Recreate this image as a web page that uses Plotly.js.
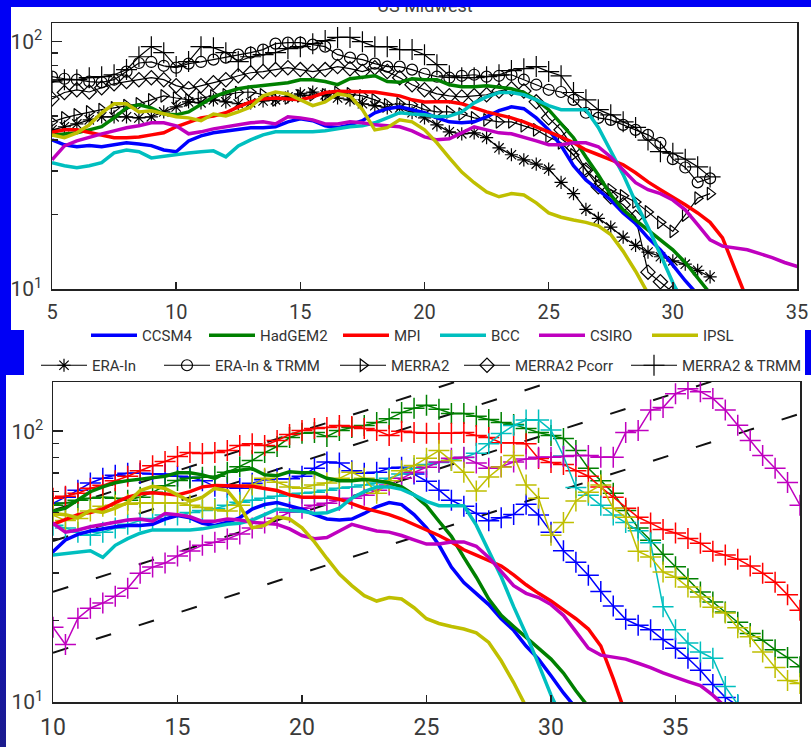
<!DOCTYPE html>
<html><head><meta charset="utf-8">
<script src="https://cdn.plot.ly/plotly-3.0.1.min.js"></script>
<style>
html,body{margin:0;padding:0;background:#fff;}
#wrap{position:relative;width:811px;height:747px;overflow:hidden;background:#fff;}
#chart{position:absolute;left:0;top:0;width:811px;height:747px;}
.bl{position:absolute;background:#0000f5;pointer-events:none;}
</style></head><body>
<div id="wrap"><div id="chart"></div>
<div class="bl" style="left:0;top:0;width:811px;height:7px"></div>
<div class="bl" style="left:0;top:0;width:11px;height:330px"></div>
<div class="bl" style="left:0;top:330px;width:24px;height:45px"></div>
<div class="bl" style="left:0;top:375px;width:6px;height:372px;background:linear-gradient(#0000ee,#1c1c8e)"></div>
<div class="bl" style="left:805px;top:330px;width:6px;height:45px"></div>
</div>
<script>
// ---- data ----
const tempTop = [5,5.5,6,6.5,7,7.5,8,8.5,9,9.5,10,10.5,11,11.5,12,12.5,13,13.5,14,14.5,15,15.5,16,16.5,17,17.5,18,18.5,19,19.5,20,20.5,21,21.5,22,22.5,23,23.5,24,24.5,25,25.5,26,26.5,27,27.5,28,28.5,29,29.5,30,30.5,31,31.5,32,32.5,33,33.5,34,34.5,35,35.5,36,36.5,37,37.5,38,38.5,39,39.5,40];
const tempFut = [10,10.5,11,11.5,12,12.5,13,13.5,14,14.5,15,15.5,16,16.5,17,17.5,18,18.5,19,19.5,20,20.5,21,21.5,22,22.5,23,23.5,24,24.5,25,25.5,26,26.5,27,27.5,28,28.5,29,29.5,30,30.5,31,31.5,32,32.5,33,33.5,34,34.5,35,35.5,36,36.5,37,37.5,38,38.5,39,39.5,40];

const modelNames = ['CCSM4','HadGEM2','MPI','BCC','CSIRO','IPSL'];
const modelColors = ['#0000ff','#008000','#ff0000','#00bfbf','#bf00bf','#bfbf00'];

const ccsm4 = [40.1,38.3,37.6,38,37.6,38.3,39,38.6,38,36.5,35.9,39.7,41.6,42.8,43.6,44.4,44.9,44.9,45.3,47.4,48.8,47.9,45.7,44.9,46.1,47.9,51.6,53.6,54.5,53.1,51.6,49.2,47.4,47,47.4,49.7,52.6,54.5,53.6,49.2,44,38,31.5,27.6,25.2,22.9,20.3,18.4,16.1,14.4,12.5,10.8,9.5];
const hadgem2 = [41.8,42.4,42.8,44,45.3,49.2,54,55.6,54,51,50.6,52,56,59.8,62.3,64.5,65.7,66.4,67,68.2,70.2,70.2,69,67,70.8,72,72.8,69,68.5,70.8,70.2,70.2,67,65.7,65.7,66.4,65.7,64.5,62.3,58.2,53.1,46.5,40.9,34.2,28.9,24,20.9,19,17.3,15.8,14.4,12.8,11,9.6,8.5];
const mpi = [43,44,44,43,42,40.9,40.9,41.2,42,42.8,45.3,47.4,49.2,50.1,51.6,54.5,57.1,58.7,59.2,58.7,58.2,59.8,62.3,63,63,62.6,62.6,61.5,60.4,58.2,57,57.1,57.1,56.1,54,52,50.6,49.2,47.4,45.3,43,41.2,39,36.5,34.9,33.3,31.8,29.5,27.1,25.2,23.6,21.9,20.3,18.6,16.1,12.2,9.0];
const bcc = [32.4,31.5,30.9,31.5,32.4,35.5,36.5,35.9,33.9,34.5,34.9,35.5,35.9,36.2,34.2,37.9,40.1,42,43.2,43.2,43.2,43.2,43.6,44.4,45.3,45.7,47,49.2,51.6,51,50.6,49.7,50,52,56.6,59.8,62.3,62.3,61,58.2,55.1,53.1,53.1,53.1,45,36,29,22.5,17.8,13.8,10.6,8.5];
const csiro = [33.3,37.9,39.7,41.2,42.4,43.6,44.9,45.7,47,47,45.7,42.4,43.2,44.4,45.3,46.1,47,47.4,46.5,49.7,49.2,48.3,46.5,46.5,47.4,47,46.1,45.7,45.3,43.6,41.2,40.1,40.5,42.8,45.3,44,42.8,42.4,41.2,39.7,38.3,38.3,39,39,37.6,34.2,30.3,26.9,25.2,24.3,22.9,20.9,18.2,15.8,14.9,14.6,14.4,13.9,13.4,12.8,12.3,11.9,11.5,10.6,9.6];
const ipsl = [42,40.9,42.8,46.1,51.6,56.1,56.1,52,52.6,51,49.7,49.2,47.9,51,50.1,52,54.5,60.4,62.6,61.5,58.2,55.1,57.1,61.5,60.4,53.1,44,44.9,48.3,47.4,44,39,33.9,29.7,26.9,24.7,23.6,24.3,24,22.3,20.3,19.5,19,18.6,18,16.6,14.2,11.8,9.6];

const obsNames = ['ERA-In','ERA-In & TRMM','MERRA2','MERRA2 Pcorr','MERRA2 & TRMM'];
const obsSymbols = ['asterisk-open','circle-open','triangle-right-open','diamond-open','cross-thin-open'];
const eraIn = [44,45.3,46.5,48.3,49.7,49.7,49.7,49.2,49.7,52,54.5,57.1,56.6,58.2,57.1,56.1,56.6,57.6,58.2,59.8,61.5,62.6,61,59.2,58.2,56.1,55.1,54,54,51.6,49.2,46.1,43.2,42.4,42.8,40.9,37.2,34.9,33.3,32,30.5,27,24.3,21,19.3,17.8,16.2,15,14.1,13.5,13,12.6,11.9,11.2];
const eraInTrmm = [72.2,70.8,70.2,69,68.5,70.2,75.7,82,82.8,79.9,78.5,81.5,82.8,84.6,86.2,88.6,90.3,92.9,98.2,99.1,99.1,97.3,95.5,88.6,86.2,84.6,81.5,79.3,79.3,77.1,74.2,72.2,71.5,72.8,73.5,72.2,72.8,73.5,70.2,67,63.9,62.6,58.2,51.6,49.2,48.3,46.1,44,42,39,33.5,31,27,28];
const merra2 = [47.4,49.2,50.6,52,53.1,54,55.1,56.1,58.2,60.4,59.2,58.2,59.2,60.4,61,62.3,62.6,61,58.2,59.2,60.4,61,61,62.3,61.5,60.4,58.2,55.6,56.1,55.6,53.1,52,52,51,49.2,48.3,47.4,47.4,45.7,44,41.2,39,34.9,30.3,27.1,25.2,23.8,22.5,20.5,18.6,17.1,19.9,23.3,24.3];
const merra2Pcorr = [58.7,62.3,63.9,62.6,65.1,67.6,69,70.2,71.5,70.2,66.4,64.5,66.4,68.2,70.2,72.8,74.9,75.7,77.1,78.5,77.1,75.7,77.1,79.3,77.8,75.7,78.5,75.7,71.5,67,63.9,61.5,60.4,59.8,60.4,61,63.2,64.5,63.2,57.1,49.2,44,37.2,30.3,25.9,23.6,21.9,19.5,11.7,10.7,9.7];
const merra2Trmm = [68.8,70.2,70.2,71.5,72.2,73.5,77.1,86.9,95.5,90.3,79.3,83.1,95.5,94.6,90.3,83.1,86.9,88.6,90.3,93.7,95.5,98.2,101,104,104,100,95.5,95.5,92.9,92.9,88.6,80.7,72.8,71.5,71.5,72.2,73.5,76.4,77.8,79.3,75.7,72.8,62.3,58.2,53.1,50.6,47.4,45,40,35.9,35.4,33.5,31.2,28.4];

// future (lower panel, "+" series)
const ccsm4Fut = [54.2,57.1,60.6,64.4,67,68.8,70,70,69.5,69.5,68.2,67.6,65.7,62.6,62.1,61.6,64.3,66.2,66.8,66.8,68.2,73,77,76.4,71.5,70,70.5,73,73.6,69.5,65.4,60.6,55.6,52.8,49.8,46.7,47.9,49.3,53.8,49,42.4,36.2,32.8,29.4,25.6,22.6,20.2,19.2,18.5,17,15.8,14.5,13.1,11.6,10.4,9.7];
const hadgem2Fut = [53.3,54.3,55.6,56.6,57.1,56.6,55.6,57.1,59.5,62.9,65.8,67,67.6,68.2,70.5,74,78,83.4,87.8,94.8,98.2,99,95.7,100.7,103.3,105,107.6,111.3,117.2,121.5,124.6,120.6,116.3,116.3,113.5,110.6,107.8,106,102.4,99,96.5,94,84.8,73,65.7,59,51,43.9,39.6,35.1,31.6,28.5,25.5,23.4,21.5,19.7,17.9,16.9,15.6,14.6,13.5];
const mpiFut = [56.6,57.5,59,61.6,63.2,65.6,68.2,71.5,74.6,77.3,80.7,83.4,82.7,83.4,84.8,88.5,90,88.5,92.4,97.3,100.7,102.4,103.3,105,104.2,102.4,100.7,96.5,99.9,99,98.2,98.2,98.2,99,96.5,94.8,90.7,90.7,90,79.3,76.6,75.3,71.5,68.2,62.2,57.1,52,48.1,45.8,43.4,42.1,40.2,38.6,36,34.9,33.7,31.8,29.9,27.7,24.9,21.8];
const bccFut = [45,43.9,42.4,41.3,42.4,43.9,45.3,46.8,47.6,49,49,50.1,51,51.8,53.3,54.7,55.6,56.6,57.5,58.5,59,59.5,60.6,61.6,62.2,63.3,64.4,67,69.5,73,75.3,76.7,77.9,80,83,90,98,105,110,110,101,81,62,58,53.3,49,46,42.9,38.7,22.5,18.5,16.5,15.3,14.5,11.4,9.8];
const csiroFut = [18.9,16.3,20.4,22.2,23.2,24.6,26.3,29.9,31.5,32.6,34.6,36.1,37.9,38.9,40,41.7,43.9,45.8,47.7,50.2,51.9,53.3,54.2,55.6,56.6,58,60.6,63.3,67,70.5,73.6,77,79.5,80.1,76.4,73,74,77,79,80.1,80.1,80.7,81.4,81.4,80.1,80.1,98.9,100.7,119.7,122.3,137.6,143.5,140,132.2,119.7,105.2,92.4,81.4,73,64.6,53.3];
const ipslFut = [49,46.8,47.6,50.7,52.8,53.3,53.8,54.3,54.3,54.3,54.3,53.3,52.3,51.3,50.7,53.3,63.3,67,64.8,62.3,61.6,63.3,64.4,67,70.5,67,59,65.7,71.5,74.7,79.5,84.8,77.9,70.5,60.2,67.8,73.8,81.4,63.3,56.6,41.3,46,55.3,59.5,63.3,52,48.1,36,34.3,30.2,28.9,26.6,24.4,22.4,21.3,18.8,17.4,15.3,13.4,12,11.7];

// dashed 7%/K reference lines: end points (temperature, value)
const ccX = [10, 40];
const ccLines = [[15.2,116],[25.5,194],[39.3,299],[51,388]];

const topTicksX = [5,10,15,20,25,30,35];
const botTicksX = [10,15,20,25,30,35,40];
const yMajor = [10,100];
const yMajorText = ['10<sup>1</sup>','10<sup>2</sup>'];
const yMinor = [20,30,40,50,60,70,80,90];

// ---- chart ----
const FONT = "Roboto, 'Liberation Sans Narrow', sans-serif";
const W = 811, H = 747;
const modelData = [ccsm4, hadgem2, mpi, bcc, csiro, ipsl];
const obsData = [eraIn, eraInTrmm, merra2, merra2Pcorr, merra2Trmm];
const futData = [ccsm4Fut, hadgem2Fut, mpiFut, bccFut, csiroFut, ipslFut];
const modelLegendW = [57,73,36,38,52,35];
const obsLegendW = [62,115,63,106,122];
const obsSizes = [11,11,11,11,15];

const traces = [];
obsData.forEach((d,i) => traces.push({
  x: tempTop, y: d, xaxis:'x', yaxis:'y', mode:'lines+markers', name: obsNames[i],
  legend:'legend2', legendwidth: obsLegendW[i],
  line:{color:'#000', width:1.2},
  marker:{symbol: obsSymbols[i], size: obsSizes[i], color:'#000', line:{color:'#000', width:1.2}}
}));
modelData.forEach((d,i) => traces.push({
  x: tempTop, y: d, xaxis:'x', yaxis:'y', mode:'lines', name: modelNames[i],
  legend:'legend', legendwidth: modelLegendW[i],
  line:{color: modelColors[i], width:3.5}
}));
ccLines.forEach(v => traces.push({
  x: ccX, y: v, xaxis:'x2', yaxis:'y2', mode:'lines', showlegend:false, hoverinfo:'skip',
  line:{color:'#111', width:2, dash:'16px,29px'}
}));
futData.forEach((d,i) => traces.push({
  x: tempFut, y: d, xaxis:'x2', yaxis:'y2', mode:'lines+markers', showlegend:false, name: modelNames[i]+' future',
  line:{color: modelColors[i], width:1.5},
  marker:{symbol:'cross-thin-open', size:15, color: modelColors[i], line:{color: modelColors[i], width:1.5}}
}));
modelData.forEach((d,i) => traces.push({
  x: tempTop, y: d, xaxis:'x2', yaxis:'y2', mode:'lines', showlegend:false, name: modelNames[i],
  line:{color: modelColors[i], width:3.5}
}));

function xAx(domain, range, ticks, size, anchor){
  return {domain: domain, range: range, anchor: anchor, tickmode:'array', tickvals: ticks,
    ticks:'inside', ticklen:7, tickwidth:1.5, tickcolor:'#222',
    showline:true, mirror:true, linecolor:'#222', linewidth:1.5,
    showgrid:false, zeroline:false, ticklabelstandoff:4,
    tickfont:{family:FONT, size:size, color:'#3a3a3a'}};
}
function yAx(domain, top, anchor){
  return {domain: domain, type:'log', range:[1, Math.log10(top)], anchor: anchor,
    tickmode:'array', tickvals: yMajor, ticktext: yMajorText,
    ticks:'inside', ticklen:10, tickwidth:1.5, tickcolor:'#222',
    minor:{tickmode:'array', tickvals: yMinor, ticks:'inside', ticklen:6, tickwidth:1.5, tickcolor:'#222', showgrid:false},
    showline:true, mirror:true, linecolor:'#222', linewidth:1.5,
    showgrid:false, zeroline:false, ticklabelstandoff:4,
    tickfont:{family:FONT, size:21, color:'#3a3a3a'}};
}

const legFont = {family:FONT, size:15, color:'#333'};
const layout = {
  width:W, height:H, margin:{l:0,r:0,t:0,b:0},
  paper_bgcolor:'#fff', plot_bgcolor:'#fff', showlegend:true,
  title:{text:'US Midwest', x:425/W, xanchor:'center', y:1-6/H, yanchor:'middle',
    font:{family:FONT, size:18, color:'#444'}},
  xaxis: xAx([52/W, 797/W], [5,35], topTicksX, 20, 'y'),
  yaxis: yAx([1-289/H, 1-23/H], 119, 'x'),
  xaxis2: xAx([53/W, 800/W], [10,40], botTicksX, 23, 'y2'),
  yaxis2: yAx([1-702/H, 1-382/H], 152, 'x2'),
  legend:{orientation:'h', x:86/W, xanchor:'left', y:1-319/H, yanchor:'top',
    itemwidth:46, font:legFont, bgcolor:'rgba(0,0,0,0)', traceorder:'normal'},
  legend2:{orientation:'h', x:36/W, xanchor:'left', y:1-349/H, yanchor:'top',
    itemwidth:46, font:legFont, bgcolor:'rgba(0,0,0,0)', traceorder:'normal'}
};

Plotly.newPlot('chart', traces, layout, {staticPlot:true, displayModeBar:false});
</script>
</body></html>
